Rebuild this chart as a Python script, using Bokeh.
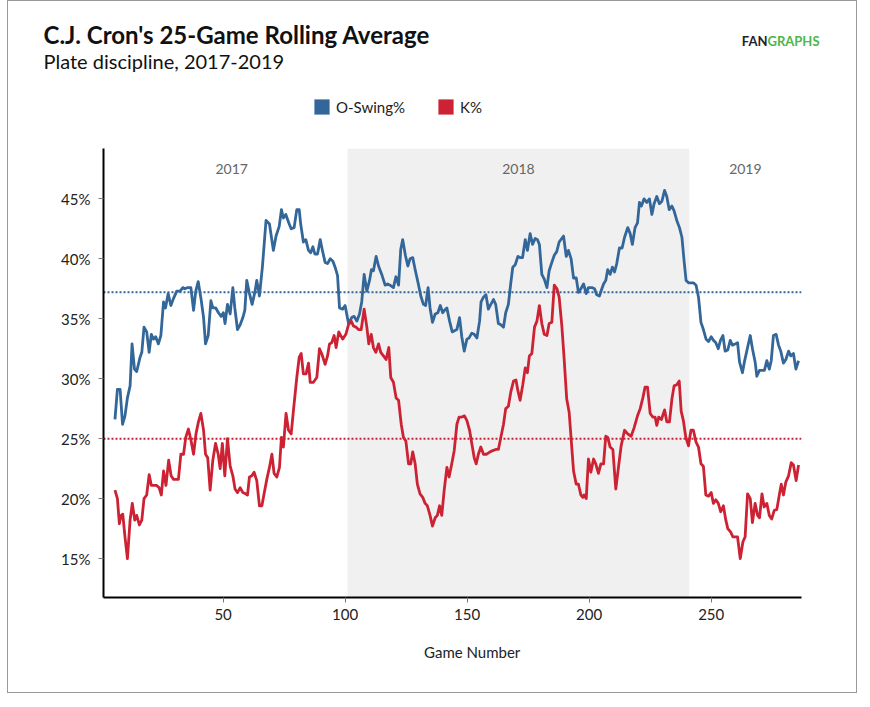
from bokeh.plotting import figure
from bokeh.layouts import column
from bokeh.models import (BoxAnnotation, Span, Label, Legend, LegendItem,
                          FixedTicker, PrintfTickFormatter, Range1d)
from bokeh.core.properties import value
from bokeh.embed import file_html
from bokeh.resources import INLINE

# game number / rolling O-Swing%
swing_games = [5.7, 6.7, 7.8, 8.8, 9.8, 10.8, 11.9, 12.7, 13.7, 14.6, 16.0, 16.7, 17.6, 18.7, 19.7,
               20.6, 21.5, 22.4, 23.5, 24.5, 25.6, 26.4, 27.5, 28.6, 29.7, 31.0, 32.4, 33.5, 34.4,
               35.5, 36.8, 37.9, 38.8, 39.8, 41.0, 42.0, 42.8, 43.9, 45.0, 45.8, 47.0, 48.1, 49.2,
               50.1, 50.8, 51.8, 52.9, 54.0, 54.8, 55.9, 57.0, 58.1, 58.9, 59.7, 60.7, 61.9, 63.0,
               63.8, 64.9, 66.1, 67.6, 69.0, 70.6, 71.7, 73.0, 73.9, 74.7, 75.7, 76.9, 77.9, 79.1,
               80.2, 81.2, 81.8, 82.9, 83.9, 85.0, 85.9, 86.8, 87.6, 88.7, 89.8, 90.7, 91.8, 92.8,
               93.9, 95.0, 95.9, 96.9, 97.7,
               99.0, 100.0, 101.4, 102.7, 103.7, 104.8, 105.9, 106.8, 107.8, 108.9, 110.0, 110.8,
               111.6, 112.7, 113.7, 115.0, 116.4, 117.4, 118.4, 119.8, 120.8, 121.9, 122.8, 123.6,
               124.7, 125.7, 126.6, 127.7, 128.8, 130.0, 131.0, 132.1, 133.0, 134.0, 134.8, 135.8,
               136.9, 138.0, 139.0, 140.0, 140.7, 141.7, 142.8, 143.9, 144.8, 145.8, 146.9, 147.8,
               148.8, 149.9, 150.8, 151.9, 152.9, 154.0, 155.1, 155.7, 156.7, 157.7, 158.7, 159.7,
               160.8, 161.7, 162.8, 163.8, 164.9, 165.8, 166.9, 167.9, 168.7, 169.7, 170.8, 171.7,
               172.7, 173.8, 174.7, 175.8, 176.8, 177.9, 178.8, 179.6, 180.6, 181.6, 182.7, 183.6,
               184.7, 185.7, 186.7, 187.7,
               189.5, 190.6, 191.5, 192.6, 193.6, 194.7, 195.6, 196.6, 197.7, 198.8, 199.7, 201.1,
               202.2, 203.1, 204.2, 205.2, 205.9, 206.8, 207.6, 208.6, 209.5, 210.4, 211.3, 212.4,
               213.5, 214.5, 215.8, 216.8, 217.7, 218.8, 219.8, 220.6, 221.4, 222.5, 223.6, 224.7,
               225.7, 226.6, 227.7, 228.8, 229.8, 230.9, 231.8, 232.8, 233.9, 234.8, 235.9, 237.0,
               238.0, 238.9, 239.7, 240.7, 241.8, 242.7, 243.8, 244.8, 245.8, 246.8, 247.9, 248.9,
               250.0, 250.9, 251.9, 252.9, 253.8, 254.8, 255.7, 256.8, 257.8, 258.7, 259.8, 260.8,
               261.6, 262.8, 263.6, 264.9, 266.0, 266.9, 268.0, 268.7, 269.8, 270.9, 271.8, 272.8,
               273.8, 274.6, 275.5, 276.6, 277.6, 278.5, 279.6, 280.6, 281.7, 282.6, 283.7, 284.7,
               285.8]
swing_pct = [26.6, 29.1, 29.1, 26.2, 26.9, 28.4, 29.4, 32.9, 30.8, 30.6, 31.8, 32.2, 34.3, 33.9, 32.2,
             33.7, 33.3, 33.5, 32.9, 33.6, 36.4, 35.9, 37.1, 36.1, 36.7, 37.3, 37.3, 37.6, 37.5,
             37.6, 37.6, 35.7, 37.3, 38.1, 36.6, 35.1, 32.9, 33.6, 36.5, 35.9, 35.9, 35.5, 35.2,
             35.5, 34.6, 36.2, 35.4, 37.6, 35.9, 34.1, 34.5, 35.1, 35.7, 38.2, 37.2, 36.2, 37.2,
             38.2, 36.9, 39.3, 43.2, 42.9, 40.7, 41.9, 42.7, 44.1, 43.4, 43.7, 43.0, 42.5, 42.6,
             44.1, 44.1, 42.9, 41.4, 41.6, 40.7, 40.5, 41.0, 40.4, 40.4, 41.6, 40.7, 39.7, 39.6,
             40.0, 39.8, 39.3, 38.6, 35.9,
             35.8, 36.1, 34.6, 35.1, 35.2, 34.8, 35.4, 36.4, 38.7, 37.3, 38.2, 39.1,
             39.0, 40.2, 39.4, 38.7, 37.8, 37.9, 37.8, 37.6, 38.5, 37.8, 40.8, 41.6,
             40.3, 39.4, 40.0, 40.1, 39.0, 37.9, 36.9, 36.2, 36.1, 37.6, 35.9, 34.7,
             35.4, 35.5, 36.1, 35.5, 35.7, 35.9, 34.8, 33.9, 34.0, 34.1, 35.1, 33.5,
             32.3, 33.3, 33.4, 33.8, 33.7, 33.4, 34.8, 36.4, 36.8, 37.0, 35.8, 36.2,
             36.6, 36.2, 34.6, 34.5, 34.3, 35.5, 36.2, 38.0, 39.3, 39.5, 40.2, 40.1,
             40.1, 41.6, 40.7, 42.1, 41.2, 41.7, 41.6, 41.2, 38.7, 38.3, 37.6, 39.0,
             39.7, 40.3, 40.6, 41.4,
             41.9, 40.2, 40.7, 40.0, 38.4, 38.4, 37.2, 37.5, 37.9, 37.1, 37.6, 37.6,
             37.5, 37.0, 36.9, 37.5, 37.9, 38.2, 39.1, 38.7, 39.3, 38.9, 39.6, 40.9,
             40.9, 41.8, 42.6, 42.1, 41.2, 42.6, 43.0, 44.7, 44.4, 45.0, 44.7, 45.0,
             43.7, 44.6, 45.2, 44.6, 44.8, 45.7, 45.2, 44.1, 44.4, 44.0, 43.2, 42.6,
             41.8, 39.8, 38.2, 38.0, 38.0, 38.0, 37.8, 36.8, 34.7, 34.1, 33.3, 33.1,
             33.5, 33.2, 33.0, 32.5, 33.2, 33.6, 32.3, 32.4, 33.2, 32.8, 32.9, 33.0,
             31.4, 30.5, 31.4, 32.6, 33.6, 32.5, 31.4, 30.2, 30.7, 30.7, 30.7, 31.5,
             30.8, 31.5, 33.6, 33.7, 32.8, 32.3, 31.3, 31.6, 32.3, 31.9, 32.1, 30.8,
             31.5]

# game number / rolling K%
k_games = [5.7, 6.7, 7.5, 8.2, 8.9, 9.8, 10.8, 11.9, 12.8, 13.8, 14.6, 15.7, 16.7, 17.6, 18.7, 19.7,
           20.6, 21.7, 22.8, 23.8, 24.7, 25.6, 26.6, 27.7, 28.7, 29.7, 30.7, 31.7, 32.7, 33.8,
           34.7, 35.8, 36.9, 37.9, 38.9, 39.9, 40.9, 42.0, 42.8, 43.7, 44.7, 45.8, 46.9, 48.0,
           48.8, 49.7, 50.7, 51.8, 52.9, 54.0, 54.9, 55.9, 57.0, 58.1, 59.2, 60.0, 60.8, 61.8,
           62.7, 63.8, 64.9, 65.9, 66.8, 67.9, 69.0, 70.0, 70.9, 72.0, 73.1, 73.9, 74.7, 75.8,
           76.8, 77.9, 78.8, 80.2, 81.2, 82.0, 82.9, 84.0, 85.0, 85.7, 87.0, 88.4, 89.5, 90.4,
           91.8, 92.8, 93.6, 94.5, 95.5, 96.3, 97.4,
           99.0, 100.3, 101.4, 102.5, 103.4, 104.5, 105.5, 106.6, 107.8, 108.9, 109.7, 110.7,
           111.6, 112.6, 113.7, 114.6, 115.7, 116.8, 117.9, 118.7, 119.8, 120.9, 121.9, 123.0,
           123.9, 124.9, 126.0, 126.9, 127.7, 128.7, 129.6, 130.7, 131.8, 132.8, 133.7, 134.8,
           135.8, 136.9, 137.8, 138.7, 139.6, 140.6, 141.7, 142.6, 143.7, 144.7, 145.8, 146.7,
           147.8, 148.9, 149.9, 151.0, 151.9, 152.9, 153.7, 154.6, 155.6, 156.7, 158.0, 159.4,
           160.5, 161.7, 162.8, 163.8, 164.9, 165.8, 166.9, 167.9, 169.0, 170.0, 170.8, 171.7,
           172.8, 173.8, 174.7, 175.5, 176.5, 177.6, 178.6, 179.6, 180.6, 181.6, 182.7, 183.6,
           184.7, 185.7, 186.8, 187.7,
           188.8, 189.7, 190.8, 191.8, 192.6, 193.6, 194.7, 195.6, 196.6, 197.4, 197.9, 198.8,
           199.7, 200.7, 201.8, 202.7, 203.8, 204.8, 205.9, 206.8, 207.6, 208.6, 209.7, 210.9,
           212.0, 213.1, 214.5, 215.8, 217.2, 218.4, 219.8, 220.9, 222.0, 222.9, 223.9, 225.0,
           226.1, 227.0, 227.7, 228.5, 229.6, 230.9, 231.8, 232.9, 233.9, 234.8, 235.9, 236.9,
           237.7, 238.6, 239.6, 240.7, 241.7, 242.7, 243.8, 244.8, 245.8, 246.8, 247.8, 248.9,
           250.0, 250.9, 251.9, 252.9, 253.9, 255.0, 256.0, 256.8, 258.0, 258.9, 260.1, 260.8,
           261.9, 263.0, 263.9, 264.9, 266.0, 266.9, 268.0, 269.0, 269.8, 270.8, 271.7, 272.8,
           273.8, 274.8, 275.8, 276.9, 277.9, 278.7, 279.6, 280.6, 281.7, 282.8, 283.7, 284.8,
           285.8]
k_pct = [20.7, 20.0, 17.9, 18.6, 18.7, 16.8, 15.0, 18.2, 19.6, 18.2, 18.6, 17.8, 18.2, 20.0, 20.3, 22.0,
         21.1, 21.1, 21.1, 20.9, 20.3, 22.3, 21.1, 23.2, 21.9, 21.6, 21.6, 21.6, 23.7, 23.7,
         25.1, 25.8, 24.8, 23.7, 25.4, 26.4, 27.1, 25.7, 23.7, 23.4, 20.7, 23.2, 24.6, 23.7,
         22.5, 24.6, 21.9, 25.0, 22.7, 21.9, 20.8, 20.5, 20.9, 20.5, 20.4, 20.3, 21.8, 21.9,
         22.2, 21.5, 19.4, 19.4, 20.4, 21.6, 22.6, 23.7, 22.1, 21.8, 22.6, 25.1, 24.3, 27.1,
         25.7, 25.4, 27.3, 30.1, 31.8, 32.1, 30.4, 30.4, 31.3, 29.7, 29.7, 30.1, 32.5, 32.1,
         31.2, 31.9, 32.9, 33.0, 33.6, 32.6, 33.9,
         33.3, 33.7, 34.5, 34.8, 34.4, 34.3, 34.1, 34.1, 35.8, 34.3, 32.9, 33.7,
         32.6, 32.2, 32.9, 32.2, 31.9, 31.6, 32.6, 30.1, 29.7, 28.4, 28.2, 26.2,
         25.1, 24.8, 22.9, 22.9, 23.9, 22.9, 21.2, 20.4, 20.1, 19.6, 19.4, 18.6,
         17.7, 18.4, 18.6, 19.4, 18.6, 20.7, 22.6, 21.8, 22.9, 24.0, 26.2, 26.8,
         26.8, 26.9, 26.5, 25.7, 24.6, 23.4, 22.9, 23.7, 24.3, 23.7, 23.7, 23.9,
         24.0, 24.1, 24.1, 25.1, 26.2, 27.5, 27.7, 28.9, 29.8, 29.9, 29.0, 28.2,
         29.5, 30.9, 30.5, 31.9, 32.1, 34.3, 34.8, 36.1, 34.6, 33.7, 33.6, 34.6,
         34.7, 37.8, 37.5, 36.8,
         34.4, 31.8, 28.3, 27.2, 25.0, 22.3, 21.2, 21.2, 20.3, 20.1, 20.3, 20.0,
         23.3, 22.2, 23.3, 22.9, 22.1, 22.9, 22.9, 25.2, 25.1, 24.3, 24.1, 20.8,
         22.6, 24.4, 25.7, 25.4, 25.2, 25.9, 26.9, 27.5, 28.4, 29.3, 29.3, 27.1,
         26.8, 26.8, 26.1, 26.8, 26.6, 27.4, 26.4, 26.4, 28.3, 29.4, 29.5, 29.8,
         27.3, 26.5, 25.1, 24.4, 25.7, 25.7, 24.7, 24.3, 22.9, 22.7, 20.3, 20.2,
         20.5, 19.6, 19.9, 19.6, 18.9, 19.4, 18.2, 17.5, 17.2, 16.8, 16.8, 16.8,
         15.0, 16.4, 16.8, 20.4, 20.0, 18.0, 19.6, 18.6, 18.4, 20.4, 19.3, 19.6,
         18.6, 18.3, 19.0, 19.1, 20.3, 21.2, 20.3, 21.4, 21.9, 23.0, 22.8, 21.5,
         22.8]

swing_avg = 37.2
k_avg = 25.0
seasons = ["2017", "2018", "2019"]
season_bounds = [6, 101, 241, 287]
x_ticks = [50, 100, 150, 200, 250]
y_ticks = [15, 20, 25, 30, 35, 40, 45]

BLUE = "#336699"
RED = "#cc2233"
FONT = "Lato"
W = 848
HEAD_H = 147


def canvas_label(x, y, text, size, color="#111111", style="normal", align="left"):
    # absolute position on the figure's canvas, y measured down from the top
    return Label(x=x, y=y, x_units="canvas", y_units="canvas", text=text, text_font=FONT,
                 text_font_size=size, text_font_style=style, text_color=color,
                 text_align=align, text_baseline="middle")


# ---- header: title, subtitle, logo text and legend ----
head = figure(width=W, height=HEAD_H, x_range=Range1d(0, 1), y_range=Range1d(0, 1),
              output_backend="svg", toolbar_location=None, title_location=None,
              x_axis_location=None, y_axis_location=None, min_border=0)
head.outline_line_color = None
head.grid.visible = False

head.add_layout(canvas_label(35, 33.2, "C.J. Cron's 25-Game Rolling Average", "24px",
                             style="bold"), "above")
head.add_layout(canvas_label(35, 59.8, "Plate discipline, 2017-2019", "20px"), "above")
head.add_layout(canvas_label(759, 39.5, "FAN", "13px", color="#222222", style="bold",
                             align="right"), "above")
head.add_layout(canvas_label(759, 39.5, "GRAPHS", "13px", color="#4cb648", style="bold"),
                "above")

# legend swatches: proxy glyphs with no visible data
nan = float("nan")
sq_b = head.quad(left=[nan], right=[nan], top=[nan], bottom=[nan], fill_color=BLUE,
                 line_color=None)
sq_r = head.quad(left=[nan], right=[nan], top=[nan], bottom=[nan], fill_color=RED,
                 line_color=None)
legend = Legend(items=[LegendItem(label="O-Swing%", renderers=[sq_b]),
                       LegendItem(label="K%", renderers=[sq_r])],
                location=(209, 32), orientation="horizontal", glyph_width=19, glyph_height=19,
                label_height=19, label_standoff=5, spacing=31, padding=0, margin=0,
                border_line_color=None, background_fill_alpha=0, label_text_font=FONT,
                label_text_font_size="15px", label_text_color="#222222")
head.add_layout(legend, "center")

# ---- main chart ----
p = figure(width=W, height=544, x_range=Range1d(1, 287), y_range=Range1d(11.75, 49.2),
           output_backend="svg", toolbar_location=None, title_location=None,
           min_border_left=95, min_border_right=55, min_border_top=0, min_border_bottom=95)
p.outline_line_color = None
p.xgrid.visible = False
p.ygrid.visible = False

# 2018 season shading
band = BoxAnnotation(left=season_bounds[1], right=season_bounds[2], fill_color="#f0f0f0",
                     fill_alpha=1, line_color=None, level="underlay")
p.add_layout(band)

p.add_layout(Span(location=swing_avg, dimension="width", line_color=BLUE, line_width=2,
                  line_dash="2 2", level="underlay"))
p.add_layout(Span(location=k_avg, dimension="width", line_color=RED, line_width=2,
                  line_dash="2 2", level="underlay"))

p.line(swing_games, swing_pct, line_color=BLUE, line_width=2.8, line_join="round")
p.line(k_games, k_pct, line_color=RED, line_width=2.8, line_join="round")

# season labels centred in each season
year_x = [(season_bounds[i] + season_bounds[i + 1]) / 2 for i in range(3)]
p.text(x=year_x, y=[47.5] * 3, text=seasons, text_font=value(FONT), text_font_size="14px",
       text_color="#666666", text_align="center", text_baseline="middle")

# axes
p.xaxis.ticker = FixedTicker(ticks=x_ticks)
p.yaxis.ticker = FixedTicker(ticks=y_ticks)
p.yaxis.formatter = PrintfTickFormatter(format="%d%%")
for ax in (p.xaxis, p.yaxis):
    ax.axis_line_color = "black"
    ax.axis_line_width = 2
    ax.major_tick_line_color = "#777777"
    ax.major_tick_in = 0
    ax.major_tick_out = 5
    ax.minor_tick_line_color = None
    ax.major_label_text_font = FONT
    ax.major_label_text_font_size = "15px"
    ax.major_label_text_color = "#222222"
p.xaxis.major_label_standoff = 6
p.yaxis.major_label_standoff = 8

p.add_layout(canvas_label(463.7, 503.7, "Game Number", "15px", color="#222222",
                          align="center"), "below")

layout = column(head, p)
layout.styles = {"border": "1px solid #999999", "margin-left": "7px"}

open("out.html", "w").write(file_html(layout, INLINE))
